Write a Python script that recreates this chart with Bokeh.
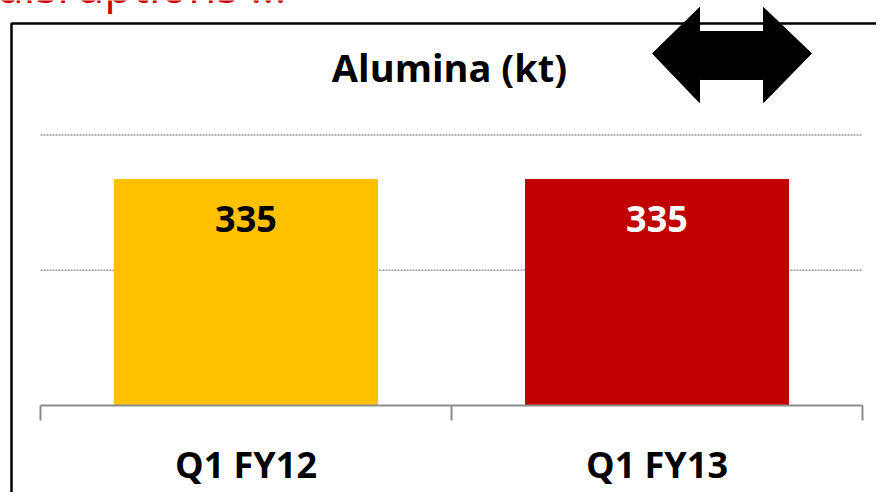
from bokeh.plotting import figure
from bokeh.models import Range1d, ColumnDataSource
from bokeh.core.properties import value
from bokeh.embed import file_html
from bokeh.resources import INLINE

# ---- data ----
categories = ["Q1 FY12", "Q1 FY13"]
values = [335, 335]
bar_colors = ["#FFC000", "#C00000"]
value_label_colors = ["#000000", "#FFFFFF"]
grid_values = [200, 400]
title_text = "Alumina (kt)"
header_text = "disruptions ..."

# ---- layout helpers (picture px -> data units) ----
W, H = 876, 492
X0, BAND = 40, 411          # px of first category boundary, category width
Y0, PX_PER_KT = 405, 0.676  # px of zero line, pixels per kt
BASE_FIX = 0.29             # baseline correction, in em


def ux(sx):
    return (sx - X0) / BAND


def vy(sy):
    return (Y0 - sy) / PX_PER_KT


p = figure(width=W, height=H, output_backend="svg", toolbar_location=None,
           x_range=Range1d(ux(0), ux(W)),
           y_range=Range1d(vy(H), vy(0)),
           x_axis_type=None, y_axis_type=None, min_border=0)
p.outline_line_color = None
p.grid.visible = False
p.background_fill_color = "white"

n = len(categories)
xs = [i + 0.5 for i in range(n)]
FONT = value("Open Sans")

# header text (mostly cut off at the top of the slide)
HDR = 46
p.text(x=[ux(286)], y=[vy(-2 - BASE_FIX * HDR)], text=[header_text],
       text_color="#CC0000", text_font=FONT, text_font_size=f"{HDR}px",
       text_align="right", text_baseline="alphabetic")

# frame box (left + top edges)
p.line(x=[ux(11), ux(11), ux(900)], y=[vy(520), vy(23), vy(23)],
       line_color="black", line_width=2.5)

# double arrow
ax = [652, 699, 699, 763, 763, 811, 763, 763, 699, 699]
ay = [53, 7, 31, 31, 7, 53, 102, 79, 79, 102]
p.patch(x=[ux(a) for a in ax], y=[vy(b) for b in ay], fill_color="black",
        line_color="black", line_width=1)

# gridlines
p.segment(x0=[0] * len(grid_values), x1=[n] * len(grid_values),
          y0=grid_values, y1=grid_values, line_color="#9a9a9a",
          line_width=1.5, line_dash="2 1")

# bars
VAL = 36
src = ColumnDataSource(dict(x=xs, top=values, color=bar_colors,
                            lc=value_label_colors,
                            label=[str(v) for v in values],
                            ly=[v - (50 - BASE_FIX * VAL) / PX_PER_KT
                                for v in values]))
p.vbar(x="x", top="top", bottom=0, width=264 / BAND, color="color",
       line_color=None, source=src)

# value labels
p.text(x="x", y="ly", text="label", text_color="lc", text_font=FONT,
       text_font_style="bold", text_font_size=f"{VAL}px", text_align="center",
       text_baseline="alphabetic", source=src)

# category axis line and boundary ticks
p.line(x=[0, n], y=[0, 0], line_color="#8c8c8c", line_width=2)
tick_len = 15 / PX_PER_KT
p.segment(x0=list(range(n + 1)), x1=list(range(n + 1)),
          y0=[0] * (n + 1), y1=[-tick_len] * (n + 1),
          line_color="#8c8c8c", line_width=2)

# category labels
CAT = 36
cat_src = ColumnDataSource(dict(x=xs, cy=[vy(474 - BASE_FIX * CAT)] * n,
                                cat=categories))
p.text(x="x", y="cy", text="cat", text_color="black",
       text_font=FONT, text_font_style="bold", text_font_size=f"{CAT}px",
       text_align="center", text_baseline="alphabetic", source=cat_src)

# title
TTL = 38
p.text(x=[ux(449)], y=[vy(78 - BASE_FIX * TTL)], text=[title_text],
       text_color="black", text_font=FONT, text_font_style="bold",
       text_font_size=f"{TTL}px", text_align="center",
       text_baseline="alphabetic")

open("out.html", "w").write(file_html(p, INLINE))
